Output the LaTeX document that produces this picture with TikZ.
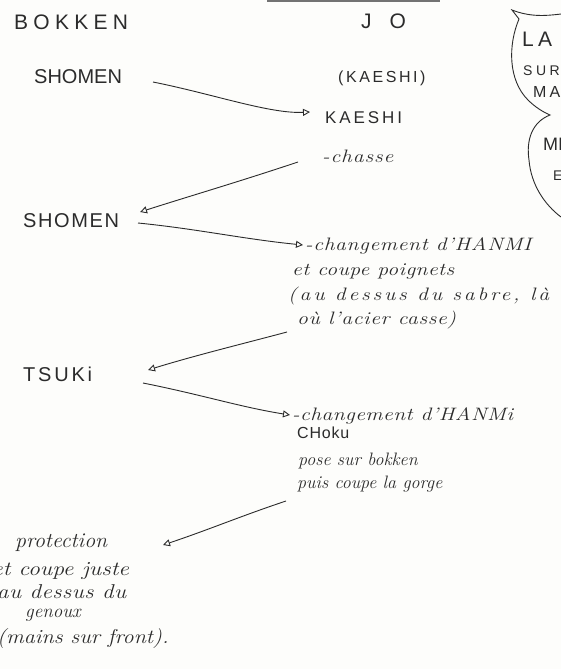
\documentclass[tikz,border=0pt]{standalone}
\usepackage{graphicx}
\usepackage{fontspec}
\setmainfont{Latin Modern Roman}
\newfontfamily\capsfont{Liberation Sans}
\usetikzlibrary{arrows.meta,calc}
\definecolor{ink}{HTML}{2B2B2B}
\definecolor{paper}{HTML}{FDFDFB}
\newcommand{\wide}[3]{\scalebox{#1}[1]{\addfontfeature{LetterSpace=#2}#3}}
\tikzset{
  caps/.style={anchor=base west, inner sep=0pt, text=ink, font=\capsfont\fontsize{#1}{#1}\selectfont},
  hand/.style={anchor=base west, inner sep=0pt, text=ink, font=\itshape\fontsize{#1}{#1}\selectfont},
  link/.style={draw=ink, line width=0.9pt, -{Triangle[open,length=7pt,width=7pt,line width=0.9pt]}},
  pen/.style={draw=ink, line width=0.9pt},
}
\begin{document}
\begin{tikzpicture}[x=1pt,y=-1pt]
\fill[paper] (0,0) rectangle (561,669);
\useasboundingbox (0,0) rectangle (561,669);
\clip (0,0) rectangle (561,669);
\fill[black!55] (267,0) rectangle (440,1.8);

% headings
\node[caps=21] (bokken) at (14,30) {\addfontfeature{LetterSpace=25}BOKKEN};
\node[caps=21] (jo) at (361,29) {\addfontfeature{LetterSpace=85}JO};

% first exchange
\node[caps=20] (shomenA) at (34,84) {SHOMEN};
\node[caps=16] (kaeshiP) at (338,82) {\addfontfeature{LetterSpace=16}(KAESHI)};
\node[caps=17] (kaeshi) at (325,123) {\addfontfeature{LetterSpace=17}KAESHI};
\node[hand=18] (chasse) at (322,162) {\wide{1.2}{4}{-chasse}};

% second exchange
\node[caps=20] (shomenB) at (23,227) {\addfontfeature{LetterSpace=8}SHOMEN};
\node[hand=18] (chgA) at (305,250) {\wide{1.2}{3}{-changement d'HANMI}};
\node[hand=18] (poign) at (292,275) {\wide{1.2}{2}{et coupe poignets}};
\node[hand=18] (sabre) at (288,300) {\wide{1.2}{13}{(au dessus du sabre, là}};
\node[hand=18] (acier) at (297,324) {\wide{1.2}{3}{où l'acier casse)}};

% third exchange
\node[caps=20] (tsuki) at (23,381) {\addfontfeature{LetterSpace=14}TSUKi};
\node[hand=18] (chgB) at (292,420) {\wide{1.2}{2}{-changement d'HANMi}};
\node[caps=16] (choku) at (297,438) {\addfontfeature{LetterSpace=5}CHoku};
\node[hand=18] (pose) at (298,465) {pose sur bokken};
\node[hand=18] (puis) at (297,488) {puis coupe la gorge};

% last answer
\node[hand=21] (prot) at (15,547) {\wide{1.04}{0}{protection}};
\node[hand=20] (juste) at (-8,575) {\wide{1.18}{0}{et coupe juste}};
\node[hand=20] (dessus) at (-3,598) {\wide{1.15}{2}{au dessus du}};
\node[hand=19] (genoux) at (25,617) {genoux};
\node[hand=20] (front) at (-3,643) {\wide{1.11}{0}{(mains sur front).}};

% bubble on the right
\draw[pen] (561,14) .. controls (545,16) and (530,17) .. (512,10)
  -- (519,19) .. controls (508,45) and (508,80) .. (528,100)
  .. controls (535,107) and (543,112) .. (550,115)
  .. controls (532,122) and (526,140) .. (529,160)
  .. controls (531,185) and (545,205) .. (561,217);
\node[caps=21] (la) at (522,47) {\addfontfeature{LetterSpace=20}LA};
\node[caps=14] (sur) at (523,75) {\addfontfeature{LetterSpace=25}SUR};
\node[caps=16] (ma) at (533,97) {\addfontfeature{LetterSpace=20}MA};
\node[caps=18] (mi) at (543,150) {MI};
\node[caps=14] (e) at (553,180) {E};

% connectors
\draw[link] ($(shomenA.base west)+(119,-2)$) .. controls +(60,12) and +(-40,2) .. ($(kaeshi.base west)+(-15,-11)$);
\draw[link] ($(chasse.base west)+(-24,0)$) .. controls +(-60,20) and +(50,-16) .. ($(shomenB.base west)+(117,-15)$);
\draw[link] ($(shomenB.base west)+(115,-4)$) .. controls +(60,6) and +(-60,-6) .. ($(chgA.base west)+(-2,-5)$);
\draw[link] ($(acier.base west)+(-10,8)$) .. controls +(-45,12) and +(45,-14) .. ($(tsuki.base west)+(125,-11)$);
\draw[link] ($(tsuki.base west)+(120,2)$) .. controls +(60,12) and +(-50,-8) .. ($(chgB.base west)+(-2,-5)$);
\draw[link] ($(puis.base west)+(-11,13)$) .. controls +(-45,15) and +(45,-15) .. ($(prot.base west)+(148,-2)$);
\end{tikzpicture}
\end{document}
